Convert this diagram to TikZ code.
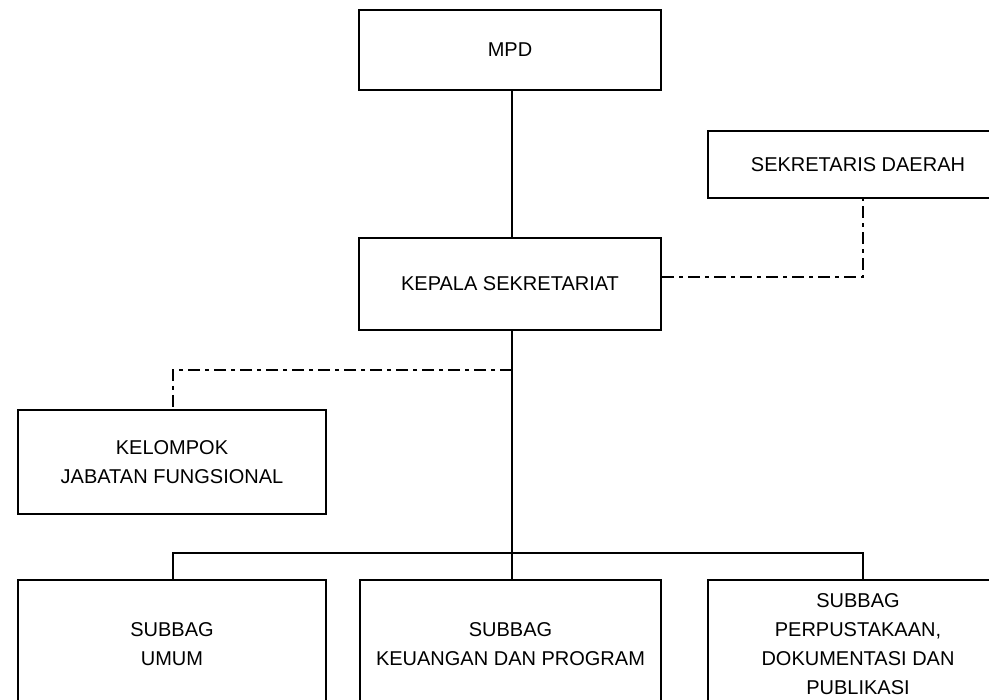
\documentclass[tikz,border=0pt]{standalone}
\usepackage{fontspec}
\setmainfont{Liberation Sans}
\begin{document}
\begin{tikzpicture}[x=1pt,y=-1pt,
  unit/.style={draw, line width=2pt, align=center, inner sep=0pt,
    font=\fontsize{20}{29}\selectfont, anchor=north west},
  link/.style={line width=2pt},
  staff/.style={line width=2pt, dash pattern=on 12pt off 5pt on 4pt off 5pt}]
\useasboundingbox (0,0) rectangle (989,700);
\clip (0,0) rectangle (989,700);

% units
\node[unit, minimum width=302, minimum height=80]  (mpd)    at (358,9)   {MPD};
\node[unit, minimum width=300, minimum height=67]  (sekda)  at (707,130) {SEKRETARIS DAERAH};
\node[unit, minimum width=302, minimum height=92]  (kepala) at (358,237) {KEPALA SEKRETARIAT};
\node[unit, minimum width=308, minimum height=104] (kjf)    at (17,409)  {KELOMPOK\\JABATAN FUNGSIONAL};
\node[unit, minimum width=308, minimum height=128] (umum)   at (17,579)  {SUBBAG\\UMUM};
\node[unit, minimum width=301, minimum height=128] (keu)    at (359,579) {SUBBAG\\KEUANGAN DAN PROGRAM};
\node[unit, minimum width=300, minimum height=128] (pub)    at (707,579) {SUBBAG\\PERPUSTAKAAN,\\DOKUMENTASI DAN\\PUBLIKASI};

% routing points
\coordinate (spine) at (512,370);
\coordinate (kbend) at (173,370);
\coordinate (sdrop) at (863,277);
\coordinate (bar)   at (512,553);
\coordinate (lcol)  at (173,553);
\coordinate (rcol)  at (863,553);

% line of command
\draw[link] (mpd.south -| spine) -- (kepala.north -| spine);
\draw[link] (kepala.south -| spine) -- (bar);
\draw[link] (umum.north -| lcol) -- (lcol) -- (rcol) -- (pub.north -| rcol);
\draw[link] (bar) -- (keu.north -| bar);

% lines of coordination
\draw[staff] (kepala.east |- sdrop) -- (sdrop) -- (sekda.south -| sdrop);
\draw[staff] (spine) -- (kbend) -- (kjf.north -| kbend);
\end{tikzpicture}
\end{document}
